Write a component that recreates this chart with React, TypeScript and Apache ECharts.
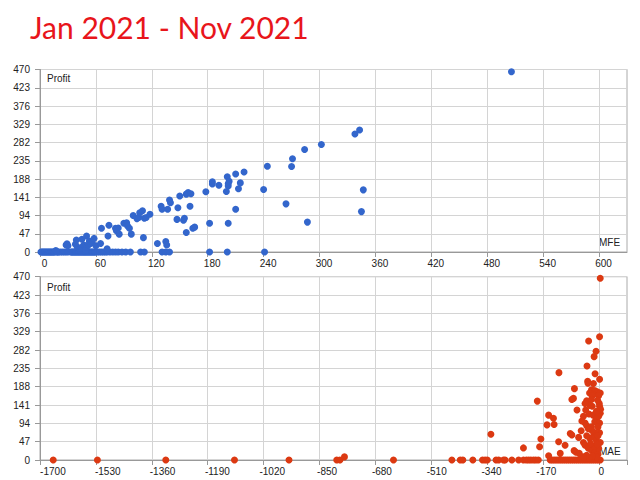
import React, { useEffect, useRef } from "react";
import * as echarts from "echarts";

const TITLE = "Jan 2021 - Nov 2021";
const Y_TICKS_MAX = 470;
const Y_STEP = 47;
const MFE_TICK_STEP = 60;
const MAE_LABELS = [-1700, -1530, -1360, -1190, -1020, -850, -680, -510, -340, -170, 0];

// MFE chart: trades with zero profit (MFE values)
const mfeZeroProfit = [
  1, 2, 3, 4, 5, 6, 7, 8, 9, 10, 11, 12, 13, 14, 15, 16, 18, 19, 20, 22, 24, 26, 28, 30,
  33, 34, 35, 36, 37, 38, 39, 40, 41, 42, 43, 44, 45, 46, 47, 48, 49, 50, 51, 52, 53, 54,
  55, 56, 57, 58, 59, 60, 62, 64, 66, 68, 70, 72, 75, 78, 81, 84, 88, 92, 97, 108, 112,
  131, 135, 139, 182, 201, 241,
];
// MFE chart: [MFE, Profit]
const mfePoints: [number, number][] = [
  [17, 4], [28, 18], [29, 21], [30, 16], [38, 20], [39, 31], [40, 13], [43, 7], [44, 10],
  [45, 12], [45, 33], [47, 18], [49, 6], [50, 12], [50, 41], [52, 18], [53, 28], [54, 22],
  [56, 24], [58, 35], [60, 16], [65, 22], [66, 61], [72, 8], [73, 41], [74, 69], [81, 61],
  [82, 55], [84, 62], [85, 46], [90, 74], [93, 75], [94, 67], [96, 61], [98, 46], [100, 94],
  [104, 86], [106, 89], [107, 101], [110, 106], [111, 37], [112, 87], [114, 89], [118, 97],
  [126, 22], [130, 118], [131, 110], [135, 27], [136, 18], [137, 110], [139, 134], [140, 127],
  [147, 84], [148, 114], [150, 144], [154, 82], [155, 87], [157, 50], [157, 149], [159, 153],
  [161, 118], [162, 150], [164, 61], [166, 64], [178, 155], [182, 74], [185, 181], [185, 175],
  [192, 172], [200, 156], [201, 194], [202, 170], [202, 176], [203, 182], [202, 74], [210, 110],
  [210, 201], [213, 163], [215, 178], [219, 206], [240, 161], [244, 221], [264, 124], [270, 220],
  [271, 240], [284, 264], [287, 77], [302, 277], [338, 304], [343, 314], [347, 160], [345, 104],
  [506, 464],
];

// MAE chart: trades with zero profit (MAE values)
const maeZeroProfit = [
  -1699, -1562, -1350, -1137, -968, -820, -810, -644, -463, -437, -429, -398, -368, -360,
  -353, -326, -318, -303, -298, -277, -256, -241, -232, -225, -218, -210, -203, -195, -158,
  -152, -146, -140, -134, -128, -122, -116, -110, -104, -98, -92, -86, -80, -74, -68, -62,
  -56, -50, -44, -38, -32, -26, -20, -14, -8, -3,
];
// MAE chart: [MAE, Profit]
const maePoints: [number, number][] = [
  [-796, 8], [-3, 466], [-5, 316], [-39, 305], [-16, 279], [-22, 265], [-44, 241], [-131, 224],
  [-19, 221], [-5, 207], [-42, 202], [-24, 196], [-41, 197], [-83, 183], [-30, 180], [-20, 178],
  [-12, 175], [-3, 172], [-36, 172], [-24, 168], [-8, 165], [-28, 165], [-86, 158], [-91, 155],
  [-45, 152], [-30, 155], [-11, 153], [-198, 151], [-75, 128], [-48, 128], [-28, 138], [-5, 138],
  [-3, 120], [-38, 118], [-25, 115], [-55, 112], [-8, 112], [-15, 105], [-60, 100], [-50, 95],
  [-20, 98], [-5, 95], [-45, 88], [-30, 85], [-10, 85], [-163, 115], [-148, 107], [-168, 90],
  [-146, 91], [-96, 68], [-91, 64], [-187, 54], [-191, 34], [-241, 31], [-342, 66], [-132, 47],
  [-112, 38], [-127, 17], [-163, 11], [-84, 24], [-78, 20], [-68, 17], [-55, 45], [-50, 38],
  [-40, 30], [-30, 25], [-20, 20], [-10, 15], [-35, 55], [-25, 60], [-15, 50], [-5, 70],
  [-45, 62], [-62, 75], [-70, 58], [-3, 45], [-8, 30], [-15, 8], [-28, 10], [-38, 5], [-45, 12],
  [-55, 8], [-22, 35], [-12, 40], [-33, 42], [-18, 70], [-28, 75], [-40, 80], [-10, 62],
  [-2, 130], [-6, 145], [-35, 140], [-15, 125], [-50, 145],
];

const FONT = "'Liberation Sans', Arial, sans-serif";
const BLUE = "#3366cc";
const RED = "#dc3912";
const GRID_COLOR = "#d4d4d4";

export default function App() {
  const ref = useRef<HTMLDivElement>(null);
  useEffect(() => {
    if (!ref.current) return;
    const chart = echarts.init(ref.current, undefined, { renderer: "svg" });

    const yAxisCommon = (gridIndex: number) => ({
      type: "value" as const,
      gridIndex,
      min: 0,
      max: Y_TICKS_MAX,
      interval: Y_STEP,
      axisLine: { show: true, onZero: false, lineStyle: { color: "#999" } },
      axisTick: { show: true, length: 5, lineStyle: { color: "#999" } },
      axisLabel: { fontSize: 10, color: "#222", fontFamily: FONT, margin: 10 },
      splitLine: { show: true, lineStyle: { color: GRID_COLOR } },
    });

    const mfeData = [
      ...mfeZeroProfit.map((x) => [x, 0]),
      ...mfePoints,
    ];
    const maeData = [
      ...maeZeroProfit.map((x) => [x, 0]),
      ...maePoints,
    ];

    chart.setOption({
      animation: false,
      textStyle: { fontFamily: FONT },
      title: {
        text: TITLE,
        left: 25,
        top: 7,
        textStyle: { fontFamily: "Lato, 'Open Sans', sans-serif", fontSize: 30, fontWeight: "normal", color: "#e8151b" },
      },
      grid: [
        { left: 40, right: 13, top: 69.5, height: 182.5, show: true, borderColor: "#aaa", borderWidth: 1 },
        { left: 40, right: 13, top: 276.7, height: 183.3, show: true, borderColor: "#aaa", borderWidth: 1 },
      ],
      xAxis: [
        {
          type: "value",
          gridIndex: 0,
          min: 0,
          max: 630,
          interval: MFE_TICK_STEP,
          axisLine: { show: true, onZero: false, lineStyle: { color: "#999" } },
          axisTick: { show: true, length: 5, lineStyle: { color: "#999" } },
          axisLabel: { fontSize: 10, color: "#222", fontFamily: FONT, margin: 6, padding: [0, 0, 0, 9], showMaxLabel: false },
          splitLine: { show: true, lineStyle: { color: GRID_COLOR } },
        },
        {
          type: "value",
          gridIndex: 1,
          min: -1740,
          max: 80,
          axisLine: { show: true, onZero: false, lineStyle: { color: "#999" } },
          axisTick: { show: false },
          axisLabel: {
            fontSize: 10,
            color: "#222",
            fontFamily: FONT,
            margin: 6,
            customValues: MAE_LABELS,
            formatter: (v: number) => String(v),
          },
          splitLine: { show: false },
        },
        {
          type: "value",
          gridIndex: 1,
          position: "bottom",
          min: 0,
          max: 630,
          interval: MFE_TICK_STEP,
          axisLine: { show: false, onZero: false },
          axisTick: { show: true, length: 5, lineStyle: { color: "#999" } },
          axisLabel: { show: false },
          splitLine: { show: true, lineStyle: { color: GRID_COLOR } },
        },
      ],
      yAxis: [yAxisCommon(0), yAxisCommon(1)],
      series: [
        {
          type: "scatter",
          name: "MFE",
          xAxisIndex: 0,
          yAxisIndex: 0,
          data: mfeData,
          symbolSize: 7,
          itemStyle: { color: BLUE, opacity: 1 },
          z: 5,
        },
        {
          type: "scatter",
          name: "MAE",
          xAxisIndex: 1,
          yAxisIndex: 1,
          data: maeData,
          symbolSize: 7,
          itemStyle: { color: RED, opacity: 1 },
          z: 5,
        },
      ],
      graphic: [
        { type: "text", left: 47, top: 73, style: { text: "Profit", fontSize: 10, fill: "#222", fontFamily: FONT } },
        { type: "text", left: 599, top: 237, style: { text: "MFE", fontSize: 10, fill: "#222", fontFamily: FONT } },
        { type: "text", left: 47, top: 282, style: { text: "Profit", fontSize: 10, fill: "#222", fontFamily: FONT } },
        { type: "text", left: 599, top: 446, style: { text: "MAE", fontSize: 10, fill: "#222", fontFamily: FONT } },
      ],
    });
    return () => chart.dispose();
  }, []);
  return (
    <div
      ref={ref}
      style={{ position: "absolute", left: 0, top: 0, width: 640, height: 480, background: "#fff" }}
    />
  );
}
